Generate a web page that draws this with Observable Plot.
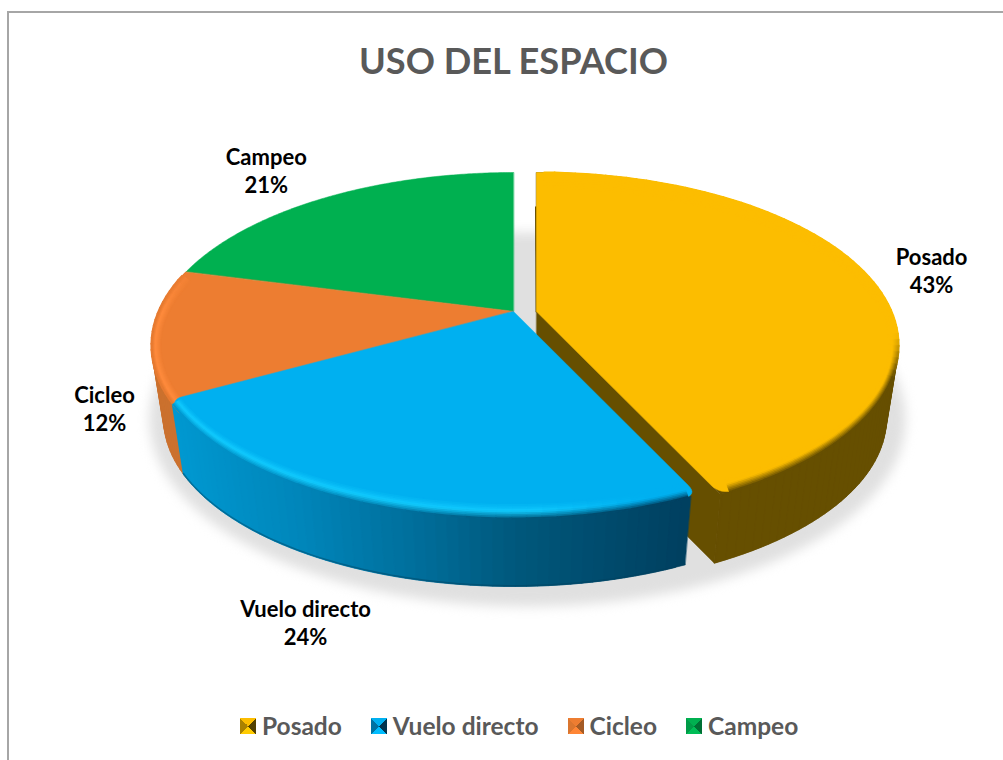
<!DOCTYPE html>
<html lang="es">
<head>
<meta charset="utf-8">
<title>USO DEL ESPACIO</title>
<script src="https://cdn.jsdelivr.net/npm/d3@7"></script>
<script src="https://cdn.jsdelivr.net/npm/@observablehq/plot@0.6"></script>
<style>
  html, body { margin: 0; padding: 0; background: #fff; }
  #page { position: relative; width: 1003px; height: 760px; overflow: hidden; font-family: Lato, sans-serif; }
  #page svg { position: absolute; left: 0; top: 0; display: block; background: transparent; }
  #frame { position: absolute; left: 7px; top: 11px; width: 1010px; height: 760px; border: 2px solid #a6a6a6; box-sizing: border-box; }
  #title { position: absolute; left: 0; top: 36px; width: 1027px; text-align: center; font-size: 36.2px; line-height: 48px; font-weight: 700; color: #595959; }
  #legend { position: absolute; left: 240px; top: 711px; display: flex; align-items: center; font-size: 24.5px; line-height: 30px; font-weight: 700; color: #595959; white-space: nowrap; }
  .item { display: flex; align-items: center; margin-right: 29px; }
  .sw { width: 16px; height: 16px; margin-right: 6px; flex: none; }
  path[aria-label="shadow"] { filter: blur(6px); }
</style>
</head>
<body>
<div id="page">
  <div id="frame"></div>
  <div id="chart"></div>
  <div id="title">USO DEL ESPACIO</div>
  <div id="legend"></div>
</div>
<script>
// ---- data ----
const categories = ["Posado", "Vuelo directo", "Cicleo", "Campeo"];
const shares = [43, 24, 12, 21];
const faceColors = ["#fcbd00", "#00b0f0", "#ed7d31", "#00b050"];

// ---- look of the pie ----
const wallRamps = [
  {at: [0, 1], colors: ["#664f00", "#664f00"]},
  {at: [176, 300, 430, 520, 690], colors: ["#0098d0", "#0086ba", "#006c98", "#00587c", "#004060"]},
  {at: [0, 1], colors: ["#cb712e", "#cb712e"]},
  {at: [0, 1], colors: ["#008a40", "#008a40"]}
];
const explode = [23, 0, 0, 0];
const roundedEnds = [[false, true], [true, true], [false, false], [false, false]];
const underlap = [0, 0, 4, 0];   // degrees a slice runs on beneath the slice in front of it
const wallTrim = [[0, 0], [1, 1], [0, 0], [0, 0]];
const rimTrim = [[1.5, 1.5], [1.5, 1.5], [0, 1.5], [1.5, 1.5]];
const labelOffsets = [[63, -7], [-73, 116], [-48, 75], [-59, -28]];
const topRing = {cx: 513, cy: 345, rx: 362, ry: 173};
const baseRing = {cx: 513, cy: 418, rx: 350, ry: 168};
const footRing = {cx: 513, cy: 417.2, rx: 350, ry: 168};
const shadowRing = {cx: 527, cy: 419, rx: 378, ry: 187};
const tilt = -0.197;           // how far the pie centre sits behind the ellipse centre
const clamp01 = (t) => Math.max(0, Math.min(1, t));

// circle → ellipse with perspective: equal angles around the pie's own centre
function unit(deg) {
  const th = deg * Math.PI / 180, u = Math.sin(th), v = -Math.cos(th), d = 1 + tilt * v;
  return [u * Math.sqrt(1 - tilt * tilt) / d, (v + tilt) / d];
}
const at = (ring, dx, deg) => {
  const [a, b] = unit(deg);
  return [ring.cx + dx + ring.rx * a, ring.cy + ring.ry * b];
};
const centre = (ring, dx) => [ring.cx + dx, ring.cy + ring.ry * tilt];
const inset = (e) => ({cx: topRing.cx, cy: topRing.cy, rx: topRing.rx - 9 * e, ry: topRing.ry - 15 * e});

// slices in degrees, clockwise from twelve o'clock
const total = d3.sum(shares);
let running = 0;
const slices = shares.map((s, i) => {
  const start = running / total * 360;
  running += s;
  return {i, name: categories[i], share: s, start, end: running / total * 360, dx: explode[i], mid: (start + s / total * 180)};
});
const degs = (a, b, step) => {
  const out = [];
  for (let d = a; d < b; d += step) out.push(d);
  out.push(b);
  return out;
};
const dist = (p, q) => Math.hypot(p[0] - q[0], p[1] - q[1]);
function cornerCurve(p, c, q) {
  return d3.range(0, 9).map((j) => {
    const t = j / 8, s = 1 - t;
    return [s * s * p[0] + 2 * s * t * c[0] + t * t * q[0], s * s * p[1] + 2 * s * t * c[1] + t * t * q[1]];
  });
}
function facePoints(sl, r = 13) {
  const apex = centre(topRing, sl.dx);
  let arc = degs(sl.start - underlap[sl.i], sl.end, 0.5).map((d) => at(topRing, sl.dx, d));
  const [roundStart, roundEnd] = roundedEnds[sl.i];
  if (roundStart) {
    const c = arc[0], L = dist(apex, c);
    const p = [c[0] + (apex[0] - c[0]) * r / L, c[1] + (apex[1] - c[1]) * r / L];
    const rest = arc.filter((a) => dist(a, c) >= r);
    arc = [...cornerCurve(p, c, rest[0]), ...rest];
  }
  if (roundEnd) {
    const c = arc[arc.length - 1], L = dist(apex, c);
    const p = [c[0] + (apex[0] - c[0]) * r / L, c[1] + (apex[1] - c[1]) * r / L];
    const rest = arc.filter((a) => dist(a, c) >= r);
    arc = [...rest, ...cornerCurve(rest[rest.length - 1], c, p)];
  }
  return [apex, ...arc];
}
const wallColor = (i, x) => d3.scaleLinear().domain(wallRamps[i].at).range(wallRamps[i].colors).clamp(true)(x);

// e = 0 at the rim, e = 1 where the bevel meets the flat top
function rimColor(i, e, x, pv) {
  const flat = faceColors[i], wall = wallColor(i, x), mix = d3.interpolateRgb;
  if (i === 1) {
    const h = 1 - clamp01((x - 540) / 110);
    const lit = mix(flat, "#12ccff")(h);
    return e > 0.5 ? mix(lit, flat)(Math.pow((e - 0.5) / 0.5, 0.7)) : mix(wall, lit)(Math.pow(e / 0.5, 0.8));
  }
  if (i === 0) {
    const f = clamp01((pv + 0.08) / 0.25);
    const c = e > 0.6 ? flat : mix(wall, flat)(e / 0.6);
    return mix(flat, c)(f);
  }
  if (i === 2) {
    const f = clamp01((pv + 0.5) / 0.3);
    const c = e > 0.35 ? mix("#ff8b3d", flat)((e - 0.35) / 0.65) : mix("#e67a30", "#ff8b3d")(e / 0.35);
    return mix(flat, c)(f);
  }
  return flat;
}

// ---- rows for the marks ----
function polygonRows(id, pts, color) {
  return pts.map(([x, y]) => ({id, x, y, color}));
}
function wallRows(sl) {
  const rows = [];
  const a = sl.start - underlap[sl.i] + wallTrim[sl.i][0], b = sl.end - wallTrim[sl.i][1];
  const ds = degs(a, b, 1.5);
  ds.slice(1).forEach((d, j) => {
    const d0 = ds[j], d1 = Math.min(d + 1.5, b);   // each strip overlaps the next, so no seams show
    const pts = [at(topRing, sl.dx, d0), at(topRing, sl.dx, d1), at(baseRing, sl.dx, d1), at(baseRing, sl.dx, d0)];
    rows.push(...polygonRows(`w${sl.i}-${j}`, pts, wallColor(sl.i, pts[0][0])));
  });
  return rows;
}
function rimRows(sl) {
  const rows = [];
  const ds = degs(sl.start - underlap[sl.i] + rimTrim[sl.i][0], sl.end - rimTrim[sl.i][1], 2);
  d3.range(0, 10).forEach((n) => {
    const e = 1 - n / 9;
    ds.slice(1).forEach((d, j) => {
      const d0 = ds[j];
      const p0 = at(inset(e), sl.dx, d0), p1 = at(inset(e), sl.dx, d);
      const color = rimColor(sl.i, e, p0[0], unit(d0)[1]);
      rows.push({id: `r${sl.i}-${n}-${j}`, x: p0[0], y: p0[1], color}, {id: `r${sl.i}-${n}-${j}`, x: p1[0], y: p1[1], color});
    });
  });
  return rows;
}
const [posado, vuelo, cicleo, campeo] = slices;
const filled = (rows, strokeWidth = 0.5) => Plot.line(rows, {x: "x", y: "y", z: "id", fill: "color", stroke: "color", strokeWidth, curve: "linear-closed"});
const rim = (rows) => Plot.line(rows, {x: "x", y: "y", z: "id", stroke: "color", strokeWidth: 2.2, strokeLinecap: "round"});
const face = (sl) => filled(polygonRows(`f${sl.i}`, facePoints(sl), faceColors[sl.i]));

// cut face of the pulled-out slice
const cutFace = [
  centre(topRing, posado.dx), at(topRing, posado.dx, posado.end),
  at(baseRing, posado.dx, posado.end), centre(baseRing, posado.dx)
];
// brown under the yellow top, showing where its corner is rounded off
const posadoUnder = [centre(topRing, posado.dx), ...degs(posado.end - 6, posado.end, 0.5).map((d) => at(topRing, posado.dx, d))];
const backEdgeTop = at(topRing, posado.dx, 0), backEdgeEnd = centre(topRing, posado.dx);
const backEdge = [
  {x: backEdgeTop[0] - 0.5, y: backEdgeTop[1] + 0.25 * (backEdgeEnd[1] - backEdgeTop[1])},
  {x: backEdgeEnd[0], y: backEdgeEnd[1]}
];
const vueloFoot = polygonRows("foot", degs(vuelo.start + 1, vuelo.end - 1, 1).map((d) => at(footRing, 0, d)), "#00405e");

const labelRows = slices.map((sl) => {
  const p = at(topRing, sl.dx, sl.mid), [ox, oy] = labelOffsets[sl.i];
  return {x: p[0] + ox, y: p[1] + oy, text: `${sl.name}\n${sl.share}%`};
});

const chart = Plot.plot({
  width: 1003, height: 760,
  marginTop: 0, marginRight: 0, marginBottom: 0, marginLeft: 0,
  x: {axis: null, domain: [0, 1003], range: [0, 1003]},
  y: {axis: null, domain: [0, 760], range: [0, 760]},
  color: {type: "identity"},
  marks: [
    Plot.line(polygonRows("shadow", degs(0, 360, 2).map((d) => at(shadowRing, 0, d)), "#e0e0e0"),
      {x: "x", y: "y", z: "id", fill: "color", stroke: "none", curve: "linear-closed", ariaLabel: () => "shadow"}),
    filled(wallRows(posado)),
    filled(polygonRows("cut", cutFace, wallRamps[0].colors[0])),
    filled(polygonRows("under", posadoUnder, wallRamps[0].colors[0])),
    Plot.line(backEdge, {x: "x", y: "y", stroke: wallRamps[0].colors[0], strokeWidth: 2}),
    face(posado),
    rim(rimRows(posado)),
    filled(wallRows(cicleo)),
    filled(wallRows(vuelo)),
    Plot.line(vueloFoot, {x: "x", y: "y", stroke: "color", strokeWidth: 1.5, strokeOpacity: 0.45}),
    face(campeo),
    face(cicleo),
    rim(rimRows(cicleo)),
    face(vuelo),
    rim(rimRows(vuelo)),
    Plot.text(labelRows, {
      x: "x", y: "y", text: "text", fill: "#000", fontFamily: "Lato, sans-serif",
      fontWeight: 700, fontSize: 22, lineHeight: 1.27, textAnchor: "middle"
    })
  ]
});
document.getElementById("chart").append(chart);

// ---- legend ----
const legend = d3.select("#legend");
categories.forEach((name, i) => {
  const c = faceColors[i], dark = wallRamps[i].colors[wallRamps[i].colors.length - 1];
  const mid = d3.interpolateRgb(c, dark)(0.55);
  const item = legend.append("div").attr("class", "item");
  item.append("span").attr("class", "sw").style("background",
    `conic-gradient(from -45deg, ${c} 0 25%, ${d3.color(dark).darker(0.6)} 0 50%, ${d3.color(c).brighter(0.2)} 0 75%, ${mid} 0)`);
  item.append("span").text(name);
});
</script>
</body>
</html>
